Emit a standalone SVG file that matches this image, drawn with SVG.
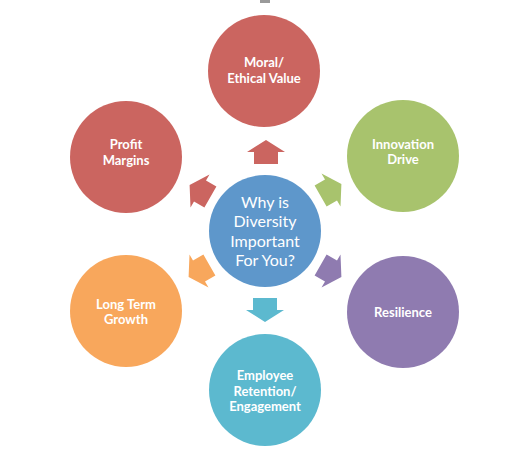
<svg xmlns="http://www.w3.org/2000/svg" width="521" height="471" viewBox="0 0 521 471">
<style>
.lbl{font-family:Lato,"Liberation Sans",sans-serif;font-weight:bold;font-size:13px;fill:#fff;text-anchor:middle}
.ctr{font-family:Lato,"Liberation Sans",sans-serif;font-size:16px;fill:#fff;text-anchor:middle}
</style>
<defs>
<path id="arr" d="M0,-12 L19,0 L12,0 L12,12 L-12,12 L-12,0 L-19,0 Z"/>
</defs>
<rect width="521" height="471" fill="#fff"/>
<rect x="260" y="0" width="10" height="3" fill="#9a9a9a"/>
<g id="connectors">
<use href="#arr" transform="translate(266,152)" fill="#CB6560"/>
<use href="#arr" transform="translate(331,190) rotate(60)" fill="#A8C36D"/>
<use href="#arr" transform="translate(331,271) rotate(120)" fill="#8F7BB0"/>
<use href="#arr" transform="translate(265,310) rotate(180)" fill="#5CB9CF"/>
<use href="#arr" transform="translate(199,271) rotate(240)" fill="#F8A75C"/>
<use href="#arr" transform="translate(200,191) rotate(300)" fill="#CB6560"/>
</g>
<g id="center">
<circle cx="265" cy="231" r="56" fill="#5E97CB"/>
<text class="ctr" x="265" y="208">Why is</text>
<text class="ctr" x="265" y="227.3">Diversity</text>
<text class="ctr" x="265" y="246.6">Important</text>
<text class="ctr" x="265" y="265.9">For You?</text>
</g>
<g id="moral">
<circle cx="264" cy="71" r="56" fill="#CB6560"/>
<text class="lbl" x="264" y="67">Moral/</text>
<text class="lbl" x="264" y="82.7">Ethical Value</text>
</g>
<g id="innovation">
<circle cx="403" cy="156" r="56" fill="#A8C36D"/>
<text class="lbl" x="403" y="148.5">Innovation</text>
<text class="lbl" x="403" y="164.2">Drive</text>
</g>
<g id="resilience">
<circle cx="403" cy="312" r="56" fill="#8F7BB0"/>
<text class="lbl" x="403" y="317">Resilience</text>
</g>
<g id="employee">
<circle cx="265" cy="390" r="56" fill="#5CB9CF"/>
<text class="lbl" x="265" y="380">Employee</text>
<text class="lbl" x="265" y="395.7">Retention/</text>
<text class="lbl" x="265" y="411.4">Engagement</text>
</g>
<g id="longterm">
<circle cx="126" cy="311" r="56" fill="#F8A75C"/>
<text class="lbl" x="126" y="308.5">Long Term</text>
<text class="lbl" x="126" y="324.2">Growth</text>
</g>
<g id="profit">
<circle cx="126" cy="157" r="56" fill="#CB6560"/>
<text class="lbl" x="126" y="149">Profit</text>
<text class="lbl" x="126" y="164.7">Margins</text>
</g>
</svg>
